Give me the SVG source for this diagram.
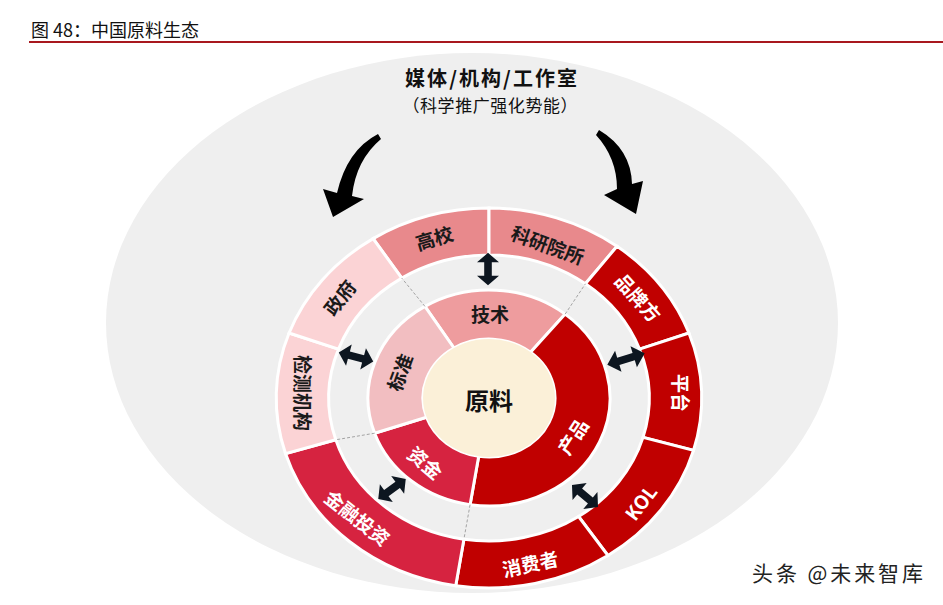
<svg xmlns="http://www.w3.org/2000/svg" width="943" height="605" viewBox="0 0 943 605">
<style>
.seg{stroke:#ffffff;stroke-width:3;vector-effect:non-scaling-stroke;stroke-linejoin:miter}
.lbl{font-family:"Noto Sans CJK SC","Liberation Sans",sans-serif;font-size:19px;font-weight:bold;text-anchor:middle;dominant-baseline:central}
.dk{fill:#1a1a1a}
.wh{fill:#ffffff}
.dash{stroke:#9a9a9a;stroke-width:0.9;stroke-dasharray:3 2;fill:none;vector-effect:non-scaling-stroke}
.dbl{fill:#0d1620}
</style>
<defs>
<path id="dbl" d="M-17,0 L-7,-11 L-7,-3.8 L7,-3.8 L7,-11 L17,0 L7,11 L7,3.8 L-7,3.8 L-7,11 Z"/>
</defs>
<rect width="943" height="605" fill="#ffffff"/>
<g id="title">
<text x="31" y="37" font-family="'Noto Sans CJK SC','Liberation Sans',sans-serif" font-size="18" fill="#111">图 48：中国原料生态</text>
<line x1="29" y1="42" x2="943" y2="42" stroke="#a8181e" stroke-width="2"/>
</g>
<ellipse id="bg" cx="472" cy="323" rx="366" ry="270" fill="#efefef"/>
<g id="header">
<text x="491" y="86" font-family="'Noto Sans CJK SC','Liberation Sans',sans-serif" font-size="20" font-weight="bold" text-anchor="middle" fill="#111" textLength="172" lengthAdjust="spacing">媒体/机构/工作室</text>
<text x="490" y="112" font-family="'Noto Sans CJK SC','Liberation Sans',sans-serif" font-size="17" text-anchor="middle" fill="#111" textLength="175" lengthAdjust="spacing">（科学推广强化势能）</text>
</g>
<g id="big-arrows" fill="#000">
<path d="M378,134 Q347,150 337,193 L323,189 L333,217 L364,199 L352,196 Q356,160 381,139 Z"/>
<path d="M599,130 Q631,149 632,184 L643,181 L636,214 L604,195 L617,189 Q617,158 596,135 Z"/>
</g>
<g id="node-gaoxiao"><path class="seg" fill="#e8898c" transform="translate(489,398) scale(1.12,1)" d="M-103.5,-159.4 A190,190 0 0 1 0,-190 L0,-143 A143,143 0 0 0 -77.9,-119.9 Z"/><text class="lbl dk" transform="translate(434,237) rotate(-17)">高校</text></g>
<g id="node-keyan"><path class="seg" fill="#e8898c" transform="translate(489,398) scale(1.12,1)" d="M0,-190 A190,190 0 0 1 114.3,-151.7 L86.1,-114.2 A143,143 0 0 0 0,-143 Z"/><text class="lbl dk" transform="translate(548,244) rotate(20)">科研院所</text></g>
<g id="node-pinpai"><path class="seg" fill="#c00000" transform="translate(489,398) scale(1.12,1)" d="M114.3,-151.7 A190,190 0 0 1 178.5,-65 L134.4,-48.9 A143,143 0 0 0 86.1,-114.2 Z"/><text class="lbl wh" transform="translate(639,297) rotate(48)">品牌方</text></g>
<g id="node-pingtai"><path class="seg" fill="#c00000" transform="translate(489,398) scale(1.12,1)" d="M178.5,-65 A190,190 0 0 1 182.6,52.4 L137.5,39.4 A143,143 0 0 0 134.4,-48.9 Z"/><text class="lbl wh" transform="translate(681,393) rotate(90)">平台</text></g>
<g id="node-kol"><path class="seg" fill="#c00000" transform="translate(489,398) scale(1.12,1)" d="M182.6,52.4 A190,190 0 0 1 106.2,157.5 L80,118.5 A143,143 0 0 0 137.5,39.4 Z"/><text class="lbl wh" transform="translate(640,502) rotate(-53)">KOL</text></g>
<g id="node-xiaofei"><path class="seg" fill="#c00000" transform="translate(489,398) scale(1.12,1)" d="M106.2,157.5 A190,190 0 0 1 -29.7,187.7 L-22.4,141.2 A143,143 0 0 0 80,118.5 Z"/><text class="lbl wh" transform="translate(530,563) rotate(-12)">消费者</text></g>
<g id="node-jinrong"><path class="seg" fill="#d62340" transform="translate(489,398) scale(1.12,1)" d="M-29.7,187.7 A190,190 0 0 1 -181.7,55.6 L-136.8,41.8 A143,143 0 0 0 -22.4,141.2 Z"/><text class="lbl wh" transform="translate(358,517) rotate(38)">金融投资</text></g>
<g id="node-jiance"><path class="seg" fill="#fbd3d5" transform="translate(489,398) scale(1.12,1)" d="M-181.7,55.6 A190,190 0 0 1 -178.5,-65 L-134.4,-48.9 A143,143 0 0 0 -136.8,41.8 Z"/><text class="lbl dk" transform="translate(303,393) rotate(90)">检测机构</text></g>
<g id="node-zhengfu"><path class="seg" fill="#fbd3d5" transform="translate(489,398) scale(1.12,1)" d="M-178.5,-65 A190,190 0 0 1 -103.5,-159.4 L-77.9,-119.9 A143,143 0 0 0 -134.4,-48.9 Z"/><text class="lbl dk" transform="translate(339,297) rotate(-52)">政府</text></g>
<g id="node-jishu"><path class="seg" fill="#ee9c9e" transform="translate(489,398) scale(1.12,1)" d="M-57.2,-91.6 A108,108 0 0 1 68,-83.9 L37.1,-45.8 A59,59 0 0 0 -31.3,-50 Z"/><text class="lbl dk" transform="translate(490,313)">技术</text></g>
<g id="node-chanpin"><path class="seg" fill="#c00000" transform="translate(489,398) scale(1.12,1)" d="M68,-83.9 A108,108 0 0 1 -16.9,106.7 L-9.2,58.3 A59,59 0 0 0 37.1,-45.8 Z"/><text class="lbl wh" transform="translate(572,436) rotate(-57)">产品</text></g>
<g id="node-zijin"><path class="seg" fill="#d62340" transform="translate(489,398) scale(1.12,1)" d="M-16.9,106.7 A108,108 0 0 1 -102.1,35.2 L-55.8,19.2 A59,59 0 0 0 -9.2,58.3 Z"/><text class="lbl wh" transform="translate(426,462) rotate(40)">资金</text></g>
<g id="node-biaozhun"><path class="seg" fill="#f2bec1" transform="translate(489,398) scale(1.12,1)" d="M-102.1,35.2 A108,108 0 0 1 -57.2,-91.6 L-31.3,-50 A59,59 0 0 0 -55.8,19.2 Z"/><text class="lbl dk" transform="translate(399,372) rotate(-70)">标准</text></g>
<g id="node-yuanliao"><ellipse cx="489" cy="398" rx="66" ry="59" fill="#fbf0d8"/><text x="489" y="399" font-family="'Noto Sans CJK SC','Liberation Sans',sans-serif" font-size="24" font-weight="bold" text-anchor="middle" dominant-baseline="central" fill="#111">原料</text></g>
<g id="connectors">
<g transform="translate(489,398) scale(1.12,1)">
<line class="dash" x1="-57.2" y1="-91.6" x2="-77.9" y2="-119.9"/>
<line class="dash" x1="68" y1="-83.9" x2="86.1" y2="-114.2"/>
<line class="dash" x1="-102.1" y1="35.2" x2="-136.8" y2="41.8"/>
<line class="dash" x1="-16.9" y1="106.7" x2="-22.4" y2="141.2"/>
</g>
<use href="#dbl" class="dbl" transform="translate(488,269) rotate(90) scale(0.95,1)"/>
<use href="#dbl" class="dbl" transform="translate(356,357) rotate(15) scale(1.05,1)"/>
<use href="#dbl" class="dbl" transform="translate(626,359) rotate(-17) scale(1.15,1)"/>
<use href="#dbl" class="dbl" transform="translate(585,496) rotate(40)"/>
<use href="#dbl" class="dbl" transform="translate(392,489) rotate(-36)"/>
</g>
<text x="752" y="581" font-family="'Noto Sans CJK SC','Liberation Sans',sans-serif" font-size="21" fill="#222" stroke="#ffffff" stroke-width="0.6" paint-order="stroke" textLength="171" lengthAdjust="spacing">头条 @未来智库</text>
</svg>
